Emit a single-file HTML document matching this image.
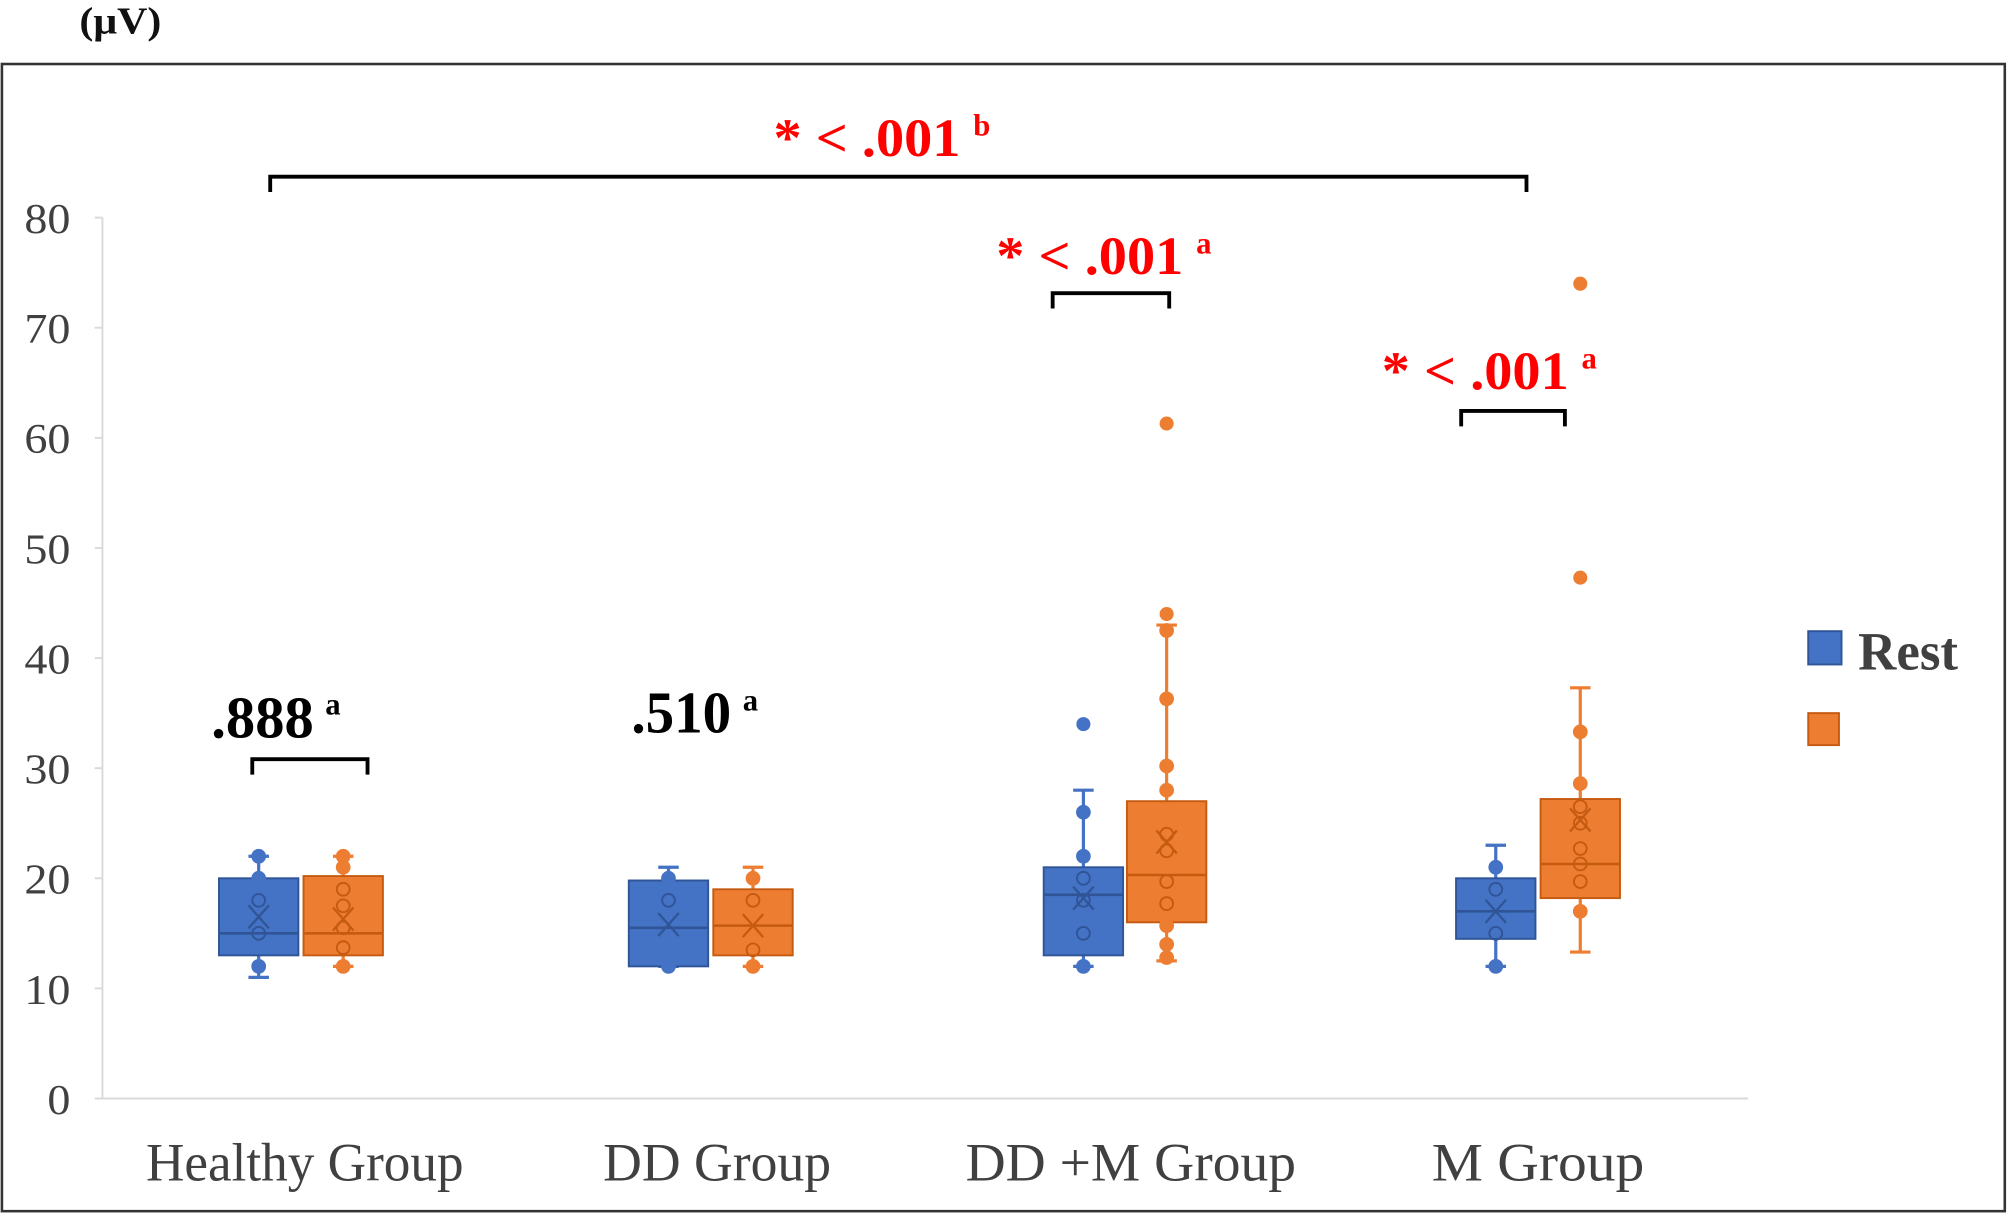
<!DOCTYPE html>
<html><head><meta charset="utf-8"><style>
html,body{margin:0;padding:0;background:#fff;}
svg{display:block;}
text{font-family:"Liberation Serif",serif;}
</style></head><body>
<svg id="s" width="2008" height="1215" viewBox="0 0 1568 949" preserveAspectRatio="none" xmlns="http://www.w3.org/2000/svg">
<rect x="0" y="0" width="1568" height="949" fill="#fff"/>
<text x="62" y="26" font-size="30" font-weight="bold" fill="#111" textLength="64" lengthAdjust="spacingAndGlyphs">(μV)</text>
<rect x="1.5" y="50" width="1564" height="896" fill="none" stroke="#333" stroke-width="2"/>
<line x1="80" y1="170" x2="80" y2="858" stroke="#d9d9d9" stroke-width="1.5"/>
<line x1="80" y1="858" x2="1365" y2="858" stroke="#d9d9d9" stroke-width="1.5"/>
<g stroke="#d9d9d9" stroke-width="1.5">
<line x1="74" y1="170" x2="80" y2="170"/><line x1="74" y1="256" x2="80" y2="256"/><line x1="74" y1="342" x2="80" y2="342"/><line x1="74" y1="428" x2="80" y2="428"/><line x1="74" y1="514" x2="80" y2="514"/><line x1="74" y1="600" x2="80" y2="600"/><line x1="74" y1="686" x2="80" y2="686"/><line x1="74" y1="772" x2="80" y2="772"/><line x1="74" y1="858" x2="80" y2="858"/>
</g>
<g font-size="33" fill="#404040" text-anchor="end">
<text x="55" y="182" textLength="36" lengthAdjust="spacingAndGlyphs">80</text><text x="55" y="268" textLength="36" lengthAdjust="spacingAndGlyphs">70</text><text x="55" y="354" textLength="36" lengthAdjust="spacingAndGlyphs">60</text><text x="55" y="440" textLength="36" lengthAdjust="spacingAndGlyphs">50</text><text x="55" y="526" textLength="36" lengthAdjust="spacingAndGlyphs">40</text><text x="55" y="612" textLength="36" lengthAdjust="spacingAndGlyphs">30</text><text x="55" y="698" textLength="36" lengthAdjust="spacingAndGlyphs">20</text><text x="55" y="784" textLength="36" lengthAdjust="spacingAndGlyphs">10</text><text x="55" y="870" textLength="18" lengthAdjust="spacingAndGlyphs">0</text>
</g>
<g font-size="42" fill="#404040" text-anchor="middle">
<text x="238" y="922" textLength="248" lengthAdjust="spacingAndGlyphs">Healthy Group</text>
<text x="560" y="922" textLength="178" lengthAdjust="spacingAndGlyphs">DD Group</text>
<text x="883" y="922" textLength="258" lengthAdjust="spacingAndGlyphs">DD +M  Group</text>
<text x="1201" y="922" textLength="166" lengthAdjust="spacingAndGlyphs">M  Group</text>
</g>
<g id="boxes"></g>
<g fill="none" stroke="#000" stroke-width="3">
<polyline points="211,150 211,138 1192,138 1192,150"/>
<polyline points="822,241 822,229 913,229 913,241"/>
<polyline points="1141,333 1141,321 1222,321 1222,333"/>
<polyline points="197,605 197,593 287,593 287,605"/>
</g>
<g fill="#f00" font-weight="bold">
<text x="604" y="122" font-size="42" textLength="146" lengthAdjust="spacingAndGlyphs">* &lt; .001</text>
<text x="760" y="106" font-size="24">b</text>
<text x="778" y="214" font-size="42" textLength="146" lengthAdjust="spacingAndGlyphs">* &lt; .001</text>
<text x="934" y="198" font-size="24">a</text>
<text x="1079" y="304" font-size="42" textLength="146" lengthAdjust="spacingAndGlyphs">* &lt; .001</text>
<text x="1235" y="288" font-size="24">a</text>
</g>
<g fill="#000" font-weight="bold">
<text x="165" y="576" font-size="46" textLength="80" lengthAdjust="spacingAndGlyphs">.888</text>
<text x="254" y="558" font-size="24">a</text>
<text x="493" y="572" font-size="46" textLength="78" lengthAdjust="spacingAndGlyphs">.510</text>
<text x="580" y="555" font-size="24">a</text>
</g>
<rect x="1412" y="493" width="26" height="26" fill="#4472C4" stroke="#2F5597" stroke-width="1.5"/>
<text x="1451" y="523" font-size="42" font-weight="bold" fill="#404040" textLength="78" lengthAdjust="spacingAndGlyphs">Rest</text>
<rect x="1412" y="557" width="24" height="25" fill="#ED7D31" stroke="#C55A11" stroke-width="1.5"/>
</svg>
<script>
(function(){
var NS="http://www.w3.org/2000/svg",g=document.getElementById("boxes");
function Y(v){return 858-8.6*v;}
function el(t,a){var e=document.createElementNS(NS,t);for(var k in a)e.setAttribute(k,a[k]);g.appendChild(e);return e;}
var data=[
 {x:171,c:"#4472C4",d:"#2F5597",q1:13,q3:20,med:15,lo:11,hi:22,mean:16.5,pts:[[22,1],[20,1],[18,0],[15,0],[12,1]],out:[]},
 {x:237,c:"#ED7D31",d:"#C55A11",q1:13,q3:20.2,med:15,lo:12,hi:22,mean:16.3,pts:[[22,1],[21,1],[19,0],[17.5,0],[15.5,0],[13.7,0],[12,1]],out:[]},
 {x:491,c:"#4472C4",d:"#2F5597",q1:12,q3:19.8,med:15.5,lo:12,hi:21,mean:15.8,pts:[[20,1],[18,0],[12,1]],out:[]},
 {x:557,c:"#ED7D31",d:"#C55A11",q1:13,q3:19,med:15.7,lo:12,hi:21,mean:15.7,pts:[[20,1],[18,0],[13.5,0],[12,1]],out:[]},
 {x:815,c:"#4472C4",d:"#2F5597",q1:13,q3:21,med:18.5,lo:12,hi:28,mean:18.2,pts:[[26,1],[22,1],[20,0],[18,0],[15,0],[12,1]],out:[34]},
 {x:880,c:"#ED7D31",d:"#C55A11",q1:16,q3:27,med:20.3,lo:12.5,hi:43,mean:23.3,pts:[[42.5,1],[36.3,1],[30.2,1],[28,1],[24,0],[22.5,0],[19.7,0],[17.7,0],[15.7,1],[14,1],[12.8,1]],out:[44,61.3]},
 {x:1137,c:"#4472C4",d:"#2F5597",q1:14.5,q3:20,med:17,lo:12,hi:23,mean:17,pts:[[21,1],[19,0],[15,0],[12,1]],out:[]},
 {x:1203,c:"#ED7D31",d:"#C55A11",q1:18.2,q3:27.2,med:21.3,lo:13.3,hi:37.3,mean:25.3,pts:[[33.3,1],[28.6,1],[26.5,0],[25,0],[22.7,0],[21.3,0],[19.7,0],[17,1]],out:[47.3,74]}
];
data.forEach(function(b){
 var w=62,cx=b.x+w/2;
 el("line",{x1:cx,y1:Y(b.hi),x2:cx,y2:Y(b.q3),stroke:b.c,"stroke-width":2.5});
 el("line",{x1:cx,y1:Y(b.q1),x2:cx,y2:Y(b.lo),stroke:b.c,"stroke-width":2.5});
 el("line",{x1:cx-8,y1:Y(b.hi),x2:cx+8,y2:Y(b.hi),stroke:b.c,"stroke-width":2.5});
 el("line",{x1:cx-8,y1:Y(b.lo),x2:cx+8,y2:Y(b.lo),stroke:b.c,"stroke-width":2.5});
 el("rect",{x:b.x,y:Y(b.q3),width:w,height:Y(b.q1)-Y(b.q3),fill:b.c,stroke:b.d,"stroke-width":1.5});
 el("line",{x1:b.x,y1:Y(b.med),x2:b.x+w,y2:Y(b.med),stroke:b.d,"stroke-width":2});
 var my=Y(b.mean);
 el("path",{d:"M"+(cx-8)+","+(my-9)+"L"+(cx+8)+","+(my+9)+"M"+(cx+8)+","+(my-9)+"L"+(cx-8)+","+(my+9),stroke:b.d,"stroke-width":1.8,fill:"none"});
 b.pts.forEach(function(p){
  el("circle",{cx:cx,cy:Y(p[0]),r:5,fill:p[1]?b.c:"none",stroke:p[1]?b.c:b.d,"stroke-width":1.5});
 });
 b.out.forEach(function(v){el("circle",{cx:cx,cy:Y(v),r:5.5,fill:b.c});});
});
})();
</script>
</body></html>
